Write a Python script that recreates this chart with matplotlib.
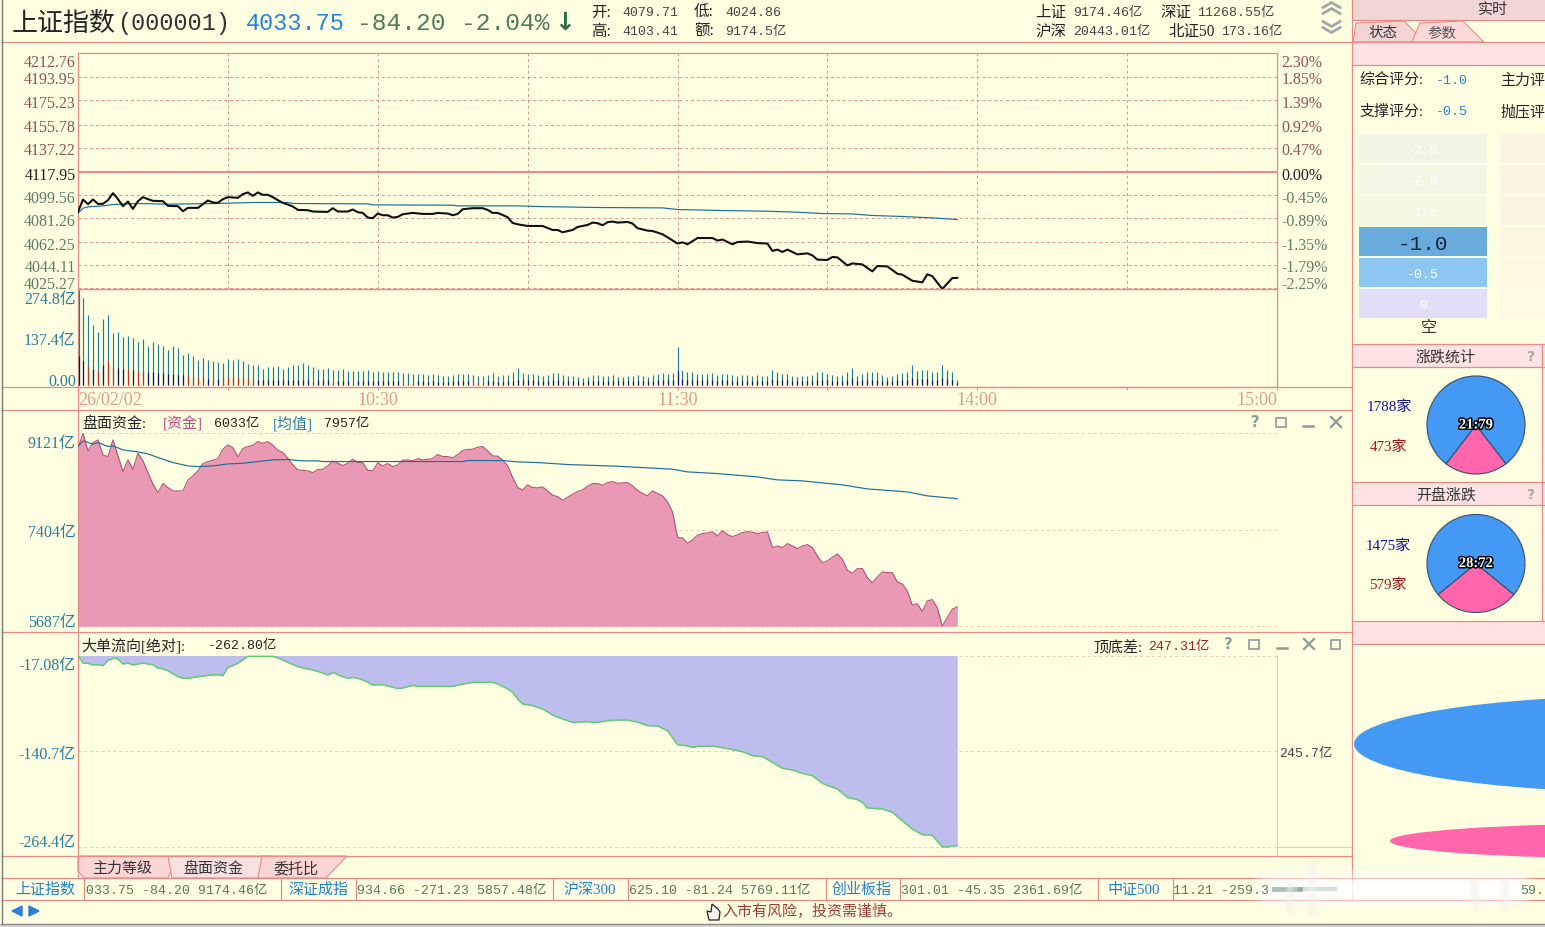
import matplotlib
matplotlib.use("Agg")
import matplotlib.pyplot as plt
from matplotlib.patches import Ellipse, Rectangle
from matplotlib.transforms import ScaledTranslation
import matplotlib.patheffects as pe

plt.rcParams['font.family'] = ['Liberation Serif', 'Noto Sans CJK SC', 'DejaVu Sans']
MONO = ['Liberation Mono', 'Noto Sans CJK SC', 'DejaVu Sans']

W, H = 1545, 928
BG = "#ffffe2"
LINE = "#e98a88"
GRID = "#dc8f8f"
GRID_SOFT = "#edcfa8"
BAND = "#fde3e3"
TEAL = "#2a7d9c"
MEAN = "#1c7096"
UP_TXT = "#94505a"
DN_TXT = "#5c7d66"
VAL_GREEN = "#4f7a5e"
BLUE_TXT = "#2583dc"

# price panel
price_ticks = [4212.76, 4193.95, 4175.23, 4155.78, 4137.22, 4117.95, 4099.56, 4081.26, 4062.25, 4044.11, 4025.27]
pct_labels = ["2.30%", "1.85%", "1.39%", "0.92%", "0.47%", "0.00%", "-0.45%", "-0.89%", "-1.35%", "-1.79%", "-2.25%"]
price_min = [0, 1, 2, 3, 4, 5, 6, 7, 8, 9, 10, 11, 12, 13, 14, 15, 17, 18, 20, 21, 22, 24, 26, 27, 28, 29, 30, 32, 33, 34,
             35, 36, 37, 38, 39, 40, 41, 42, 43, 44, 46, 47, 50, 51, 52, 54, 55, 56, 57, 58, 59, 60, 61, 62, 63, 64, 65, 67, 69, 71,
             72, 74, 75, 76, 77, 79, 81, 82, 83, 84, 86, 87, 88,
             90, 93, 95, 96, 97, 99, 100, 102, 103, 104, 105, 106, 107, 108, 110, 111, 112, 114, 115, 117, 118, 120, 121, 122, 124, 127,
             128, 129, 131, 132, 134, 136, 138, 139, 140, 141, 142, 144, 146, 147, 148, 150, 151, 152, 154, 155, 157, 159, 160, 162, 164,
             165, 167, 169, 170, 171, 173, 175, 176]
price_val = [4086.25, 4096.15, 4092.4, 4096.15, 4092.65, 4092.65, 4095.6, 4101.15, 4096.4, 4090.8, 4094.55, 4088.65, 4094.8, 4098.0, 4096.4, 4095.05, 4094.8, 4091.05, 4090.8, 4086.8, 4089.45, 4089.45, 4095.35, 4093.75, 4093.45, 4096.4, 4098.0, 4097.45, 4100.4, 4101.75,
             4099.05, 4101.75, 4099.85, 4099.85, 4098.0, 4095.6, 4093.45, 4092.15, 4090.55, 4087.85, 4087.6, 4086.55, 4086.25, 4089.2, 4086.55, 4086.55, 4088.15, 4086.0, 4085.45, 4081.75, 4081.2, 4084.95, 4083.6, 4083.6, 4081.75, 4082.25, 4084.4, 4085.45, 4084.65, 4084.65,
             4085.45, 4084.95, 4083.6, 4084.65, 4088.4, 4089.2, 4089.2, 4087.85, 4085.45, 4085.45, 4082.05, 4077.45, 4076.4,
             4075.05, 4075.05, 4071.85, 4071.85, 4070.05, 4071.85, 4074.25, 4075.85, 4077.75, 4077.25, 4075.65, 4078.05, 4078.55, 4077.75, 4078.25, 4076.95, 4073.25, 4071.35, 4071.05, 4068.45, 4066.05, 4061.05, 4062.05, 4060.45, 4065.45, 4065.45,
             4063.45, 4064.25, 4060.45, 4062.25, 4062.65, 4061.45, 4061.05, 4055.15, 4056.25, 4054.35, 4056.25, 4052.45, 4053.25, 4051.65, 4048.25, 4047.95, 4050.35, 4050.05, 4043.65, 4045.25, 4044.45, 4038.9, 4043.15, 4042.85, 4037.05,
             4036.25, 4031.45, 4030.15, 4036.55, 4035.15, 4024.9, 4033.55, 4033.75]
avg_min = [0, 1, 2, 5, 7, 12, 18, 28, 35, 42, 43, 58, 59, 75, 76, 88, 92, 104, 117, 120, 129, 138, 144, 149, 155, 159, 165, 171, 176]
avg_val = [4085.2, 4089.2, 4090.25, 4091.05, 4092.15, 4092.95, 4092.4, 4092.95, 4093.75, 4093.75, 4092.95, 4092.65, 4091.85, 4091.6, 4091.05, 4091.05, 4090.55, 4089.75, 4089.45, 4088.15, 4087.35, 4086.8, 4086.0, 4084.95, 4084.65, 4083.4, 4082.6, 4081.5, 4080.2]

# volume per minute, 亿
volume = [274.8, 253, 203, 174, 153, 191, 203, 150, 154, 140,
          142, 136, 125, 133, 113, 125, 119, 113, 102, 113,
          107, 87, 93, 84, 72, 78, 74, 69, 67, 64,
          76, 73, 75, 69, 60, 59, 58, 46, 52, 52,
          55, 46, 54, 59, 59, 63, 59, 52, 46, 47,
          50, 43, 44, 47, 42, 40, 41, 41, 44, 37,
          41, 38, 37, 38, 38, 35, 36, 33, 33, 32,
          30, 33, 30, 28, 28, 31, 33, 33, 33, 29,
          27, 26, 31, 36, 28, 29, 30, 38, 49,
          35, 32, 32, 30, 27, 29, 35, 35, 29, 27,
          27, 25, 22, 24, 29, 29, 27, 27, 29, 25,
          24, 27, 27, 29, 27, 25, 29, 32, 35, 32,
          35, 110, 43, 38, 38, 34, 32, 32, 35, 29,
          32, 32, 29, 27, 29, 29, 27, 29, 27, 27,
          44, 37, 32, 32, 27, 25, 27, 27, 29, 37,
          38, 32, 29, 27, 29, 37, 49, 27, 32, 37,
          38, 38, 29, 25, 27, 34, 35, 37, 58, 41,
          43, 44, 37, 38, 58, 43, 38, 15]
# lower part of each volume bar: positive red, negative navy
vol_part = [-85, -71, 57, -47, 40, -59, 69, 52, -50, -47,
            46, -44, 40, 42, -39, -38, -36, -35, -33, -33,
            -29, -29, 29, 23, 23, 23, -17, 19, -17, 23,
            25, 25, 23, 21, 21, 19, -15, -15, -15, -15,
            -15, -14, -14, -15, -15, -15, -14, 10, -14, -14,
            -14, 9, -13, -13, -13, 8, -13, -13, -13, -12,
            -12, -12, -12, -12, -12, 8, 8, 8, -11, -11,
            -10, -11, -10, -10, -10, -11, -11, -11, -11, 7,
            7, 7, -11, -12, -10, -10, -11, -13, -16,
            -15, -14, -14, -13, -12, -13, -15, -15, -13, -12,
            -12, -11, -10, -11, -13, -13, -12, -12, -13, -11,
            -11, -12, -12, -13, -12, -11, -13, -14, -15, -14,
            -15, -40, -18, -16, -16, -15, -14, -14, -15, -13,
            -14, -14, -13, -12, -13, -13, -12, -13, -12, -12,
            -18, -15, -14, -14, -12, -11, -12, -12, -13, -15,
            -16, -14, -13, -12, -13, -15, -20, -12, -14, -15,
            -16, -16, -13, -11, -12, -14, -15, -15, -22, -17,
            -18, -18, -15, -16, -22, -18, -16, -7]

# money panel
fund_ticks = [9121, 7404, 5687]
fund_min = list(range(0, 20)) + list(range(21, 45)) + list(range(46, 70)) + list(range(71, 89)) + [89] + list(range(90, 177))
fund_val = [8867, 9117, 8808, 8956, 9004, 8731, 8707, 9004, 8719, 8440,
            8648, 8481, 8766, 8630, 8422, 8214, 8066, 8226, 8155, 8095,
            8095, 8291, 8363, 8452, 8582, 8618, 8642, 8671, 8838, 8915, 8867, 8701, 8849, 8885, 8909, 8974, 8944, 8974, 8909, 8820, 8778, 8677, 8559, 8469,
            8452, 8422, 8475, 8481, 8541, 8630, 8588, 8547, 8588, 8659, 8600, 8600, 8458, 8458, 8594, 8541, 8582, 8529, 8559, 8642, 8648, 8630, 8671, 8648,
            8671, 8743, 8707, 8707, 8683, 8743, 8814, 8832, 8838, 8873, 8885, 8808, 8719, 8713, 8648, 8541, 8333, 8155,
            8113,
            8203, 8155, 8149, 8167, 8096, 8019, 7995, 7930, 7983, 8036, 8084, 8114, 8179, 8226, 8226, 8197, 8244, 8262, 8232, 8238, 8244, 8185, 8108, 8048, 8007, 8096, 8048, 8007, 7900, 7722,
            7265, 7259, 7164, 7223, 7306, 7336, 7348, 7366, 7294, 7389, 7318, 7282, 7312, 7354, 7371, 7360, 7336, 7354, 7366, 7086, 7116, 7086, 7158, 7116, 7069, 7116, 7140, 7086, 6938, 6813,
            6849, 6914, 6974, 6879, 6683, 6629, 6712, 6712, 6552, 6457, 6564, 6653, 6641, 6641, 6475, 6439, 6315, 6059, 6089, 5947, 6137, 6160, 6018, 5691, 5840, 5988, 6033]
fund_avg_min = [0, 1, 3, 4, 6, 7, 9, 12, 14, 17, 19, 22, 24, 27, 30, 33, 36, 39, 42, 45, 48, 49, 77, 78, 85, 88, 92, 95, 98, 108, 113, 119, 122, 128, 136, 140, 145, 153, 158, 166, 170, 176]
fund_avg_val = [8885, 8986, 8927, 8956, 8885, 8897, 8826, 8790, 8754, 8659, 8600, 8541, 8529, 8541, 8576, 8588, 8618, 8648, 8654, 8630, 8630, 8618, 8618, 8636, 8636, 8612, 8600, 8583, 8565, 8535, 8511, 8482, 8434, 8404, 8345, 8292, 8274, 8203, 8131, 8078, 8007, 7957]

# large order flow panel
flow_ticks = [-17.08, -140.7, -264.4]
flow_min = [0, 1, 2, 3, 4, 5, 6, 7, 8, 9, 10, 11, 12, 13, 14, 15, 16, 17, 18, 19, 20, 21, 22, 24, 26, 28, 29, 30, 31, 32,
            34, 39, 40, 42, 44, 46, 47, 49, 50, 51, 52, 53, 54, 55, 56, 57, 58, 59, 61, 63, 64, 65, 67, 68, 75, 77, 79, 83, 84, 86,
            87, 88, 89, 91, 93, 95, 97, 99, 102, 103, 104, 106, 108, 110, 112, 114, 116, 118, 120, 122, 123, 124, 127, 129, 131, 133, 135, 137, 139, 141,
            143, 145, 147, 149, 151, 152, 154, 156, 157, 158, 161, 163, 165, 167, 169, 171, 173, 174, 175, 176]
flow_val = [-17.08, -26.8, -27.2, -29.3, -28.9, -30.2, -23.8, -20.7, -21.6, -28.1, -26.8, -29.3, -28.1, -26.8, -28.1, -28.9, -33.2, -34.5, -36.7, -41.0, -44.0, -46.6, -46.6, -44.4, -42.7, -41.8, -43.1, -32.4, -30.2, -27.2,
            -18.2, -18.2, -20.3, -25.9, -31.5, -34.5, -35.8, -39.7, -42.3, -39.2, -41.8, -44.4, -46.6, -45.3, -46.6, -48.7, -51.7, -55.2, -54.7, -58.2, -59.5, -59.1, -55.6, -56.9, -56.9, -53.9, -51.7, -51.7, -53.9, -60.3,
            -64.6, -73.3, -79.7, -81.9, -86.2, -93.9, -99.1, -103.4, -102.5, -103.4, -103.4, -101.2, -100.4, -100.4, -103.0, -107.7, -108.1, -114.2, -132.2, -134.0, -135.7, -134.4, -134.0, -136.1, -138.7, -141.3, -146.4, -147.7, -155.0, -162.8,
            -165.0, -169.3, -172.3, -182.2, -187.3, -189.5, -200.3, -203.3, -206.7, -214.0, -215.3, -219.6, -230.4, -241.2, -248.5, -249.3, -264.4, -264.4, -263.1, -262.8]

# breadth pies
rise_fall = [473, 1788]
open_rise_fall = [579, 1475]


def px_axes(x0, y0, x1, y1, **kw):
    return fig.add_axes([x0 / W, 1 - y1 / H, (x1 - x0) / W, (y1 - y0) / H], **kw)


def ylim_for(v_a, y_a, v_b, y_b, y_top, y_bot):
    per_px = (v_a - v_b) / (y_b - y_a)
    return v_b - (y_bot - y_b) * per_px, v_a + (y_a - y_top) * per_px


def shift_down(lab, px):
    lab.set_transform(lab.get_transform() + ScaledTranslation(0, -px / 100, fig.dpi_scale_trans))


def side_ticks(ax, ticks, labels, colors, size=11.5, pad=1.6):
    ax.set_yticks(ticks)
    ax.set_yticklabels(labels, fontsize=size)
    ax.tick_params(axis="y", length=0, pad=pad)
    tl = ax.get_yticklabels()
    for lab, c in zip(tl, colors):
        lab.set_color(c)
        shift_down(lab, 0.5)
    tl[0].set_verticalalignment("top")
    tl[-1].set_verticalalignment("bottom")
    shift_down(tl[0], 1)
    shift_down(tl[-1], 2.8)


fig = plt.figure(figsize=(W / 100, H / 100), dpi=100)
fig.patch.set_facecolor(BG)

XMAX = 240
DASH = (0, (3, 3))

# price
ax = px_axes(78, 54, 1277, 289.5, facecolor="none")
ax.set_xlim(0, XMAX)
ax.set_ylim(4025.27, 4212.76)
ax.set_axisbelow(True)
for s in ax.spines.values():
    s.set_color(LINE)
    s.set_linewidth(0.9)
ax.set_xticks(range(30, 240, 30))
ax.tick_params(axis="x", length=0, labelbottom=False)
ax.grid(True, color=GRID, linestyle=DASH, linewidth=0.7)
ax.axhline(4117.95, color=LINE, linewidth=1.5)
c_left = [UP_TXT] * 5 + ["#202020"] + [DN_TXT] * 5
side_ticks(ax, price_ticks, [f"{v:.2f}" for v in price_ticks], c_left)
ax.plot(avg_min, avg_val, color=MEAN, linewidth=0.85, zorder=3)
ax.plot(price_min, price_val, color="#111111", linewidth=1.5, zorder=4)
axr = ax.twinx()
axr.set_ylim(ax.get_ylim())
for s in axr.spines.values():
    s.set_visible(False)
side_ticks(axr, price_ticks, pct_labels, c_left, size=11.5, pad=3.2)

# volume
axv = px_axes(78, 289.5, 1277, 388, facecolor="none")
axv.set_xlim(0, XMAX)
axv.set_ylim(ylim_for(274.8, 291, 0, 386.3, 289.5, 388))
minutes = [0.25] + list(range(1, len(volume)))
axv.vlines(minutes, 0, volume, color="#1c7d9a", linewidth=0.85, zorder=3)
for m, part in zip(minutes, vol_part):
    axv.vlines(m, 0, abs(part), color="#c2312a" if part > 0 else "#11116e", linewidth=0.85, zorder=3)
for k in ("top", "right", "left", "bottom"):
    axv.spines[k].set_color(LINE)
    axv.spines[k].set_linewidth(0.9)
axv.set_xticks(range(0, 241, 30))
axv.set_xticklabels(["26/02/02", "", "10:30", "", "11:30", "", "14:00", "", "15:00"], fontsize=13, color="#e39a8c")
xl = axv.get_xticklabels()
xl[0].set_horizontalalignment("left")
xl[-1].set_horizontalalignment("right")
axv.tick_params(axis="x", length=2.5, color=LINE, pad=0.2)
side_ticks(axv, [274.8, 137.4, 0], ["274.8亿", "137.4亿", "0.00"], [TEAL] * 3)

# money
axf = px_axes(78, 411, 1277, 633, facecolor="none")
axf.set_xlim(0, XMAX)
axf.set_ylim(ylim_for(9121, 434.3, 5687, 627.2, 411, 633))
for k in ("top", "right", "bottom"):
    axf.spines[k].set_visible(False)
axf.spines["left"].set_color(LINE)
axf.set_xticks([])
for v in fund_ticks:
    axf.axhline(v, color=GRID_SOFT, linestyle=DASH, linewidth=0.7, zorder=1)
axf.fill_between(fund_min, fund_val, 5687, color="#e999b3", linewidth=0, zorder=2)
axf.plot(fund_min, fund_val, color="#b84f7c", linewidth=0.8, zorder=3)
axf.plot(fund_avg_min, fund_avg_val, color=MEAN, linewidth=0.85, zorder=4)
side_ticks(axf, fund_ticks, [f"{v}亿" for v in fund_ticks], [TEAL] * 3)

# flow
axd = px_axes(78, 633, 1277, 857, facecolor="none")
axd.set_xlim(0, XMAX)
axd.set_ylim(ylim_for(-17.08, 656.5, -264.4, 848, 633, 857))
for k in ("top", "right", "bottom"):
    axd.spines[k].set_visible(False)
axd.spines["left"].set_color(LINE)
axd.set_xticks([])
for v in flow_ticks:
    axd.axhline(v, color=GRID_SOFT, linestyle=DASH, linewidth=0.7, zorder=1)
axd.fill_between(flow_min, flow_val, -17.08, color="#bdbdee", linewidth=0, zorder=2)
axd.plot(flow_min, flow_val, color="#62cc72", linewidth=1.1, zorder=3)
side_ticks(axd, flow_ticks, ["-17.08亿", "-140.7亿", "-264.4亿"], [TEAL] * 3)

# pies
for (cy, vals) in ((426, rise_fall), (564.5, open_rise_fall)):
    axp = px_axes(1476 - 50, cy - 50, 1476 + 50, cy + 50)
    span = 360.0 * vals[0] / sum(vals)
    axp.pie(vals, colors=["#ff66ab", "#4499f5"], startangle=270 - span / 2, counterclock=True,
            wedgeprops={"edgecolor": "#35506b", "linewidth": 0.8})
    axp.set_xlim(-1.02, 1.02)
    axp.set_ylim(-1.02, 1.02)
    axp.text(0, 0, f"{round(100 * vals[0] / sum(vals))}:{round(100 * vals[1] / sum(vals))}",
             ha="center", va="center", color="white", fontsize=10.5, fontweight="bold", zorder=5,
             path_effects=[pe.withStroke(linewidth=2.2, foreground="black")])

# window chrome, drawn in pixel coordinates on top
ui = fig.add_axes([0, 0, 1, 1], facecolor="none", zorder=5)
ui.set_xlim(0, W)
ui.set_ylim(H, 0)
ui.axis("off")


def txt(x, y, s, color="#222222", px=15, ha="left", **kw):
    return ui.text(x, y + 2 + (px - 15) * 0.07, s, color=color, fontsize=px * 0.72, ha=ha, va="center", **kw)


def mono(x, y, s, color="#222222", px=13.3, ha="left", **kw):
    return txt(x, y, s, color, px, ha, family=MONO, **kw)


def hline(y, x0=1, x1=1352, color=LINE, lw=0.9):
    ui.plot([x0, x1], [y, y], color=color, linewidth=lw, solid_capstyle="butt")


def vline(x, y0, y1, color=LINE, lw=0.9):
    ui.plot([x, x], [y0, y1], color=color, linewidth=lw, solid_capstyle="butt")


def box(x0, y0, x1, y1, color):
    ui.add_patch(Rectangle((x0, y0), x1 - x0, y1 - y0, facecolor=color, edgecolor="none"))


hline(43)
hline(388)
hline(411)
hline(633)
hline(857)
hline(879, 1, 1545)
hline(901, 1, 1545)
vline(78, 388, 411)
vline(78, 857, 879)
vline(1277, 656, 857, color="#e8c8b0", lw=0.7)
hline(848, 1277, 1351, color="#e8c8b0", lw=0.7)
vline(1352, 0, 901)
vline(1.5, 0, 925, color="#777777", lw=1.0)
hline(925, 0, 1545, color="#888888", lw=1.0)
box(0, 926, W, 928, "#d8d8d8")

# header
txt(12, 21, "上证指数", "#222222", 26)
mono(117, 21, "(000001)", "#333333", 23.5)
mono(246, 21, "4033.75", BLUE_TXT, 23.5)
mono(357, 21, "-84.20", VAL_GREEN, 24.5)
mono(461, 21, "-2.04%", VAL_GREEN, 24.5)
txt(565, 20, "↓", "#2f6d4c", 25, ha="center", fontweight="bold", family=["DejaVu Sans"])
for x, y, s in [(591, 11, "开:"), (694, 11, "低:"), (591, 30, "高:"), (694, 30, "额:"),
                (1035, 11, "上证"), (1160, 11, "深证"), (1035, 30, "沪深"), (1168, 30, "北证50")]:
    txt(x, y, s, "#222222", 15.5)
for x, y, s in [(622, 11, "4079.71"), (725, 11, "4024.86"), (622, 30, "4103.41"), (725, 30, "9174.5亿"),
                (1073, 11, "9174.46亿"), (1197, 11, "11268.55亿"), (1073, 30, "20443.01亿"), (1221, 30, "173.16亿")]:
    mono(x, y, s, "#444444")
for y0, d in ((4, -1), (10, -1), (23, 1), (29, 1)):
    ui.plot([1323, 1331.5, 1340], [y0 + 2 - 2.5 * d, y0 + 2 + 2.5 * d, y0 + 2 - 2.5 * d], color="#a0a8a8", linewidth=2.0)

# panel captions
txt(82, 422, "盘面资金:", "#222222", 15)
txt(163, 422, "[资金]", "#c04a7e", 15)
mono(214, 422, "6033亿", "#222222")
txt(273, 422, "[均值]", "#2a7fb0", 15)
mono(324, 422, "7957亿", "#222222")
txt(81, 644, "大单流向[绝对]:", "#222222", 15)
mono(208, 644, "-262.80亿", "#222222")
txt(1093, 645, "顶底差:", "#222222", 15)
mono(1148, 645, "247.31亿", "#a02020")
mono(1279, 752, "245.7亿", "#444444")
ICON = "#8c9a9a"
for x, y in [(1255, 423), (1228, 645)]:
    txt(x, y - 2, "?", ICON, 15, ha="center", fontweight="bold", family=["DejaVu Sans"])
for x, y in [(1281, 423), (1254, 645)]:
    ui.add_patch(Rectangle((x - 5, y - 4), 10, 9, facecolor="none", edgecolor=ICON, linewidth=1.2))
for x, y in [(1308, 427), (1282, 649)]:
    ui.plot([x - 5, x + 5], [y, y], color=ICON, linewidth=1.8)
for x, y in [(1336, 423), (1309, 645)]:
    ui.plot([x - 5, x + 5], [y - 5, y + 5], color=ICON, linewidth=1.6)
    ui.plot([x - 5, x + 5], [y + 5, y - 5], color=ICON, linewidth=1.6)
ui.add_patch(Rectangle((1331, 641), 9, 9, facecolor="none", edgecolor=ICON, linewidth=1.2))

# right side panel
box(1353, 0, W, 21, "#f1d6d6")
hline(21, 1352, W)
txt(1493, 8, "实时", "#333333", 15, ha="center")
ui.fill([1353, 1356, 1404, 1425, 1353], [43, 24, 22, 43, 43], color="#f3d4d4", edgecolor=LINE, linewidth=0.8)
ui.fill([1412, 1420, 1463, 1484, 1412], [43, 24, 22, 43, 43], color="#fcd9d9", edgecolor=LINE, linewidth=0.8)
txt(1383, 32, "状态", "#333333", 14.5, ha="center")
txt(1442, 32, "参数", "#555555", 14.5, ha="center")
hline(43, 1352, W)
box(1353, 44, W, 66, BAND)
hline(66, 1352, W)
txt(1359, 79, "综合评分:", "#222222", 15)
mono(1436, 79, "-1.0", "#2a7fd0")
txt(1500, 79, "主力评", "#222222", 15)
txt(1359, 110, "支撑评分:", "#222222", 15)
mono(1436, 110, "-0.5", "#2a7fd0")
txt(1500, 110, "抛压评", "#222222", 15)
scores = ["-2.5", "-2.0", "-1.5", "-1.0", "-0.5", "0"]
colors_l = ["#f2f5e3", "#f3f6e2", "#f4f7e1", "#6aabdd", "#8cc6f1", "#e3ddf8"]
colors_r = ["#fbf4e2", "#fbf4e2", "#fbf4e3", "#fdf7e2", "#fefae2", "#fefbe2"]
for i, (s, cl, cr) in enumerate(zip(scores, colors_l, colors_r)):
    y0 = 135 + i * 31
    box(1359, y0, 1487, y0 + 29, cl)
    box(1500, y0, W, y0 + 29, cr)
    if s == "-1.0":
        mono(1423, y0 + 14, s, "#10283c", 21, ha="center")
    else:
        mono(1423, y0 + 14, s, "#ffffff", 13.3, ha="center")
txt(1429, 326, "空", "#333333", 16, ha="center")
hline(345, 1352, W)
box(1353, 346, W, 368, BAND)
hline(368, 1352, W)
txt(1446, 355, "涨跌统计", "#333333", 15, ha="center")
hline(483, 1352, W)
box(1353, 484, W, 506, BAND)
hline(506, 1352, W)
txt(1446, 493, "开盘涨跌", "#333333", 15, ha="center")
hline(622, 1352, W)
box(1353, 623, W, 645, BAND)
hline(645, 1352, W)
vline(1542, 345, 622)
for y in (355, 493):
    txt(1530, y, "?", "#a8a8a8", 14, ha="center", fontweight="bold", family=["DejaVu Sans"])
txt(1389, 405, "1788家", "#12129a", 15, ha="center")
txt(1389, 445, "473家", "#a01818", 15, ha="center")
txt(1388, 544, "1475家", "#12129a", 15, ha="center")
txt(1388, 583, "579家", "#a01818", 15, ha="center")
ui.add_patch(Ellipse((1654, 745), 600, 97, facecolor="#4499f5", edgecolor="none"))
ui.add_patch(Ellipse((1640, 842), 500, 35, facecolor="#ff66ab", edgecolor="none"))

# bottom tabs
ui.fill([78, 78, 84, 168, 172, 168], [857, 872, 879, 879, 870, 857], color="#fcd5d5", edgecolor=LINE, linewidth=0.8)
ui.fill([168, 172, 262, 272, 262], [857, 879, 879, 857, 857], color="#f6e0e0", edgecolor=LINE, linewidth=0.8)
ui.fill([262, 258, 326, 347, 262], [857, 879, 879, 857, 857], color="#fcd5d5", edgecolor=LINE, linewidth=0.8)
txt(122, 867, "主力等级", "#333333", 15, ha="center")
txt(213, 867, "盘面资金", "#333333", 15, ha="center")
txt(296, 867, "委托比", "#333333", 15, ha="center")

# ticker row
for x in (84, 281, 356, 553, 628, 825.5, 900, 1098, 1172.5):
    vline(x, 879, 901)
for x, s in [(45, "上证指数"), (318, "深证成指"), (590, "沪深300"), (862, "创业板指"), (1134, "中证500")]:
    txt(x, 888, s, "#1f7fd0", 15, ha="center")
for x, s in [(86, "033.75 -84.20 9174.46亿"), (357, "934.66 -271.23 5857.48亿"), (629, "625.10 -81.24 5769.11亿"),
             (901, "301.01 -45.35 2361.69亿"), (1173, "11.21 -259.3"), (1520, "59.")]:
    mono(x, 889, s, "#55785f")
ui.fill([12, 22, 22], [912, 907, 917], color="#2a80d8")
ui.fill([29, 39, 29], [907, 912, 917], color="#2a80d8")
ui.fill([707, 711, 712, 718, 720, 719, 709], [912, 913, 905, 910, 913, 921, 921], facecolor="#f4f4f4", edgecolor="#222222", linewidth=0.9)
txt(722, 910, "入市有风险\uff0c投资需谨慎。", "#a03a3a", 15, family=["Noto Sans CJK SC"])

# blurred watermark over the ticker row
for lw, a in [(30, 0.22), (22, 0.35), (14, 0.5), (7, 0.6)]:
    ui.plot([1272, 1515], [890, 890], color="white", linewidth=lw, alpha=a, solid_capstyle="round")
ui.plot([1274, 1300], [890, 890], color="#3f7a58", linewidth=3.5, alpha=0.45)
ui.plot([1300, 1335], [890, 890], color="#3f7a58", linewidth=3, alpha=0.22)
for x, y0, y1 in [(1312, 867, 912), (1290, 885, 912), (1475, 885, 908), (1505, 882, 908)]:
    for lw, a in [(9, 0.12), (6, 0.2), (3, 0.3)]:
        ui.plot([x, x], [y0, y1], color="#f2f2f2", linewidth=lw, alpha=a, solid_capstyle="round")

fig.savefig("out.png", dpi=100, facecolor=fig.get_facecolor())
plt.close(fig)
